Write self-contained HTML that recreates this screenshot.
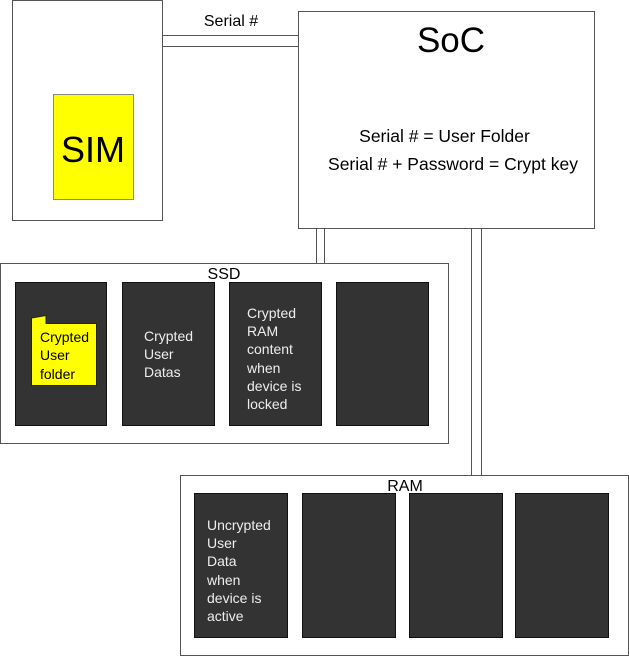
<!DOCTYPE html>
<html><head><meta charset="utf-8"><style>
html,body{margin:0;padding:0;background:#fff;}
svg{display:block;font-family:"Liberation Sans",Arial,sans-serif;}
</style></head><body>
<svg width="629" height="656" viewBox="0 0 629 656" xmlns="http://www.w3.org/2000/svg">
<g stroke="#555" stroke-width="1" fill="#fff">
<rect x="12.5" y="0.5" width="150" height="220"/>
<rect x="162.5" y="35.5" width="136" height="11"/>
<rect x="298.5" y="11.5" width="296" height="217"/>
<rect x="316.5" y="228.5" width="8" height="35"/>
<rect x="471.5" y="228.5" width="10" height="247"/>
<rect x="0.5" y="263.5" width="448" height="180"/>
<rect x="180.5" y="475.5" width="448" height="180"/>
</g>
<rect x="53.5" y="94.5" width="80" height="105" fill="#ffff00" stroke="#888"/>
<g fill="#333" stroke="#111">
<rect x="15.5" y="282.5" width="91" height="143"/>
<rect x="122.5" y="282.5" width="92" height="143"/>
<rect x="229.5" y="282.5" width="92" height="143"/>
<rect x="336.5" y="282.5" width="92" height="143"/>
<rect x="194.5" y="493.5" width="93" height="144"/>
<rect x="302.5" y="493.5" width="93" height="144"/>
<rect x="409.5" y="493.5" width="93" height="144"/>
<rect x="515.5" y="493.5" width="93" height="144"/>
</g>
<path d="M31.5 318 L46 315.5 L46 323.5 L96.5 323.5 L96.5 385.5 L31.5 385.5 Z" fill="#ffff00" stroke="#222"/>
<g fill="#000">
<text x="231" y="26" font-size="16" text-anchor="middle">Serial #</text>
<text x="93" y="162" font-size="36" text-anchor="middle">SIM</text>
<text x="451" y="52" font-size="35" text-anchor="middle">SoC</text>
<text x="444.5" y="142" font-size="17.5" text-anchor="middle">Serial # = User Folder</text>
<text x="453" y="170" font-size="17.5" text-anchor="middle">Serial # + Password = Crypt key</text>
<text x="224" y="279" font-size="16" text-anchor="middle">SSD</text>
<text x="405" y="491" font-size="16" text-anchor="middle">RAM</text>
<text font-size="14"><tspan x="40" y="342">Crypted</tspan><tspan x="40" y="360">User</tspan><tspan x="40" y="379">folder</tspan></text>
</g>
<g fill="#eee" font-size="14">
<text><tspan x="144" y="341">Crypted</tspan><tspan x="144" y="359">User</tspan><tspan x="144" y="377">Datas</tspan></text>
<text><tspan x="247" y="318">Crypted</tspan><tspan x="247" y="336">RAM</tspan><tspan x="247" y="354">content</tspan><tspan x="247" y="373">when</tspan><tspan x="247" y="391">device is</tspan><tspan x="247" y="409">locked</tspan></text>
<text><tspan x="207" y="530">Uncrypted</tspan><tspan x="207" y="548">User</tspan><tspan x="207" y="566">Data</tspan><tspan x="207" y="585">when</tspan><tspan x="207" y="603">device is</tspan><tspan x="207" y="621">active</tspan></text>
</g>
</svg>
</body></html>
